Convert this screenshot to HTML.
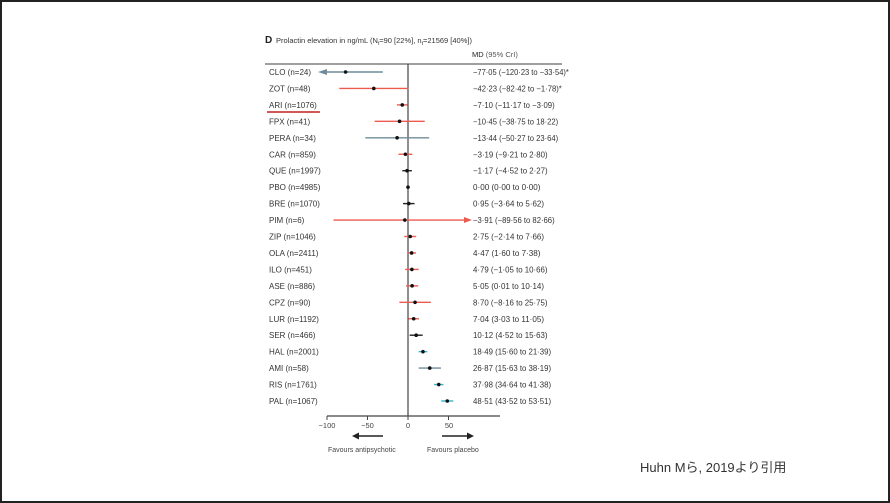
<!DOCTYPE html>
<html><head><meta charset="utf-8"><style>
html,body{margin:0;padding:0;background:#fff}
.f{position:relative;width:886px;height:499px;border:2px solid #222;overflow:hidden}
svg{position:absolute;left:-2px;top:-2px}
text{font-family:"Liberation Sans",sans-serif}
</style></head><body><div class="f">
<svg width="890" height="503" viewBox="0 0 890 503" font-size="8.5" fill="#333">
<text x="265" y="43" font-size="10" font-weight="bold" fill="#222">D</text>
<text x="276" y="43" font-size="7.5" fill="#333">Prolactin elevation in ng/mL (N<tspan font-size="5" dy="2">t</tspan><tspan dy="-2">=90 [22%], n</tspan><tspan font-size="5" dy="2">t</tspan><tspan dy="-2">=21569 [40%])</tspan></text>
<text x="472" y="57" font-size="7.5" fill="#222">MD <tspan fill="#555">(95% CrI)</tspan></text>
<line x1="265" y1="64" x2="562" y2="64" stroke="#666" stroke-width="1.3"/>
<line x1="408" y1="64" x2="408" y2="416" stroke="#444" stroke-width="1.2"/>
<line x1="327" y1="416" x2="500" y2="416" stroke="#444" stroke-width="1.2"/>
<g stroke="#444" stroke-width="1"><line x1="327" y1="416" x2="327" y2="420"/><line x1="367.5" y1="416" x2="367.5" y2="420"/><line x1="408" y1="416" x2="408" y2="420"/><line x1="448.5" y1="416" x2="448.5" y2="420"/></g>
<g font-size="7.5" text-anchor="middle" fill="#444"><text x="327" y="428">−100</text><text x="367.5" y="428">−50</text><text x="408" y="428">0</text><text x="449" y="428">50</text></g>
<line x1="355" y1="436" x2="383" y2="436" stroke="#222" stroke-width="1.5"/><polygon points="352,436 359,432.5 359,439.5" fill="#222"/>
<line x1="442" y1="436" x2="470" y2="436" stroke="#222" stroke-width="1.5"/><polygon points="474,436 467,432.5 467,439.5" fill="#222"/>
<g font-size="7" fill="#444"><text x="328" y="452">Favours antipsychotic</text><text x="427" y="452">Favours placebo</text></g>
<line x1="267" y1="112" x2="320" y2="112" stroke="#c0201e" stroke-width="1.5"/>
<g id="rows"></g>
<text x="640" y="472" font-size="13" fill="#333" font-family="Liberation Sans,Noto Sans CJK JP,sans-serif">Huhn Mら, 2019より引用</text>
</svg></div>
<script>
var R="#ef5a4f",G="#6f8c98",K="#222",T="#2fb6cc";
var d=[["CLO (n=24)","−77·05 (−120·23 to −33·54)*",-120.23,-33.54,-77.05,G],
["ZOT (n=48)","−42·23 (−82·42 to −1·78)*",-82.42,-1.78,-42.23,R],
["ARI (n=1076)","−7·10 (−11·17 to −3·09)",-11.17,-3.09,-7.1,R],
["FPX (n=41)","−10·45 (−38·75 to 18·22)",-38.75,18.22,-10.45,R],
["PERA (n=34)","−13·44 (−50·27 to 23·64)",-50.27,23.64,-13.44,G],
["CAR (n=859)","−3·19 (−9·21 to 2·80)",-9.21,2.8,-3.19,R],
["QUE (n=1997)","−1·17 (−4·52 to 2·27)",-4.52,2.27,-1.17,K],
["PBO (n=4985)","0·00 (0·00 to 0·00)",0,0,0,K],
["BRE (n=1070)","0·95 (−3·64 to 5·62)",-3.64,5.62,0.95,K],
["PIM (n=6)","−3·91 (−89·56 to 82·66)",-89.56,82.66,-3.91,R],
["ZIP (n=1046)","2·75 (−2·14 to 7·66)",-2.14,7.66,2.75,R],
["OLA (n=2411)","4·47 (1·60 to 7·38)",1.6,7.38,4.47,R],
["ILO (n=451)","4·79 (−1·05 to 10·66)",-1.05,10.66,4.79,R],
["ASE (n=886)","5·05 (0·01 to 10·14)",0.01,10.14,5.05,R],
["CPZ (n=90)","8·70 (−8·16 to 25·75)",-8.16,25.75,8.7,R],
["LUR (n=1192)","7·04 (3·03 to 11·05)",3.03,11.05,7.04,R],
["SER (n=466)","10·12 (4·52 to 15·63)",4.52,15.63,10.12,K],
["HAL (n=2001)","18·49 (15·60 to 21·39)",15.6,21.39,18.49,T],
["AMI (n=58)","26·87 (15·63 to 38·19)",15.63,38.19,26.87,G],
["RIS (n=1761)","37·98 (34·64 to 41·38)",34.64,41.38,37.98,T],
["PAL (n=1067)","48·51 (43·52 to 53·51)",43.52,53.51,48.51,T]];
var s="",X=function(v){return 408+v*0.81};
d.forEach(function(r,i){var y=72+i*16.45;
var lo=X(r[2])-2,hi=X(r[3])+2;
if(r[2]<-100)lo=327; if(r[3]>72)hi=466;
s+='<text x="269" y="'+(y+3)+'" font-size="8" fill="#333">'+r[0]+'</text>';
s+='<text x="473" y="'+(y+3)+'" font-size="8" fill="#333" textLength="'+(r[1].length*3.55)+'" lengthAdjust="spacingAndGlyphs">'+r[1]+'</text>';
if(r[3]-r[2]>0.5)s+='<line x1="'+lo+'" y1="'+y+'" x2="'+hi+'" y2="'+y+'" stroke="'+r[5]+'" stroke-width="1.4"/>';
if(r[2]<-100)s+='<polygon points="318,'+y+' 327,'+(y-3)+' 327,'+(y+3)+'" fill="'+r[5]+'"/>';
if(r[3]>72)s+='<polygon points="472,'+y+' 464,'+(y-3)+' 464,'+(y+3)+'" fill="'+r[5]+'"/>';
s+='<circle cx="'+X(r[4])+'" cy="'+y+'" r="1.8" fill="#111"/>';});
document.getElementById("rows").innerHTML=s;
</script>
</body></html>
